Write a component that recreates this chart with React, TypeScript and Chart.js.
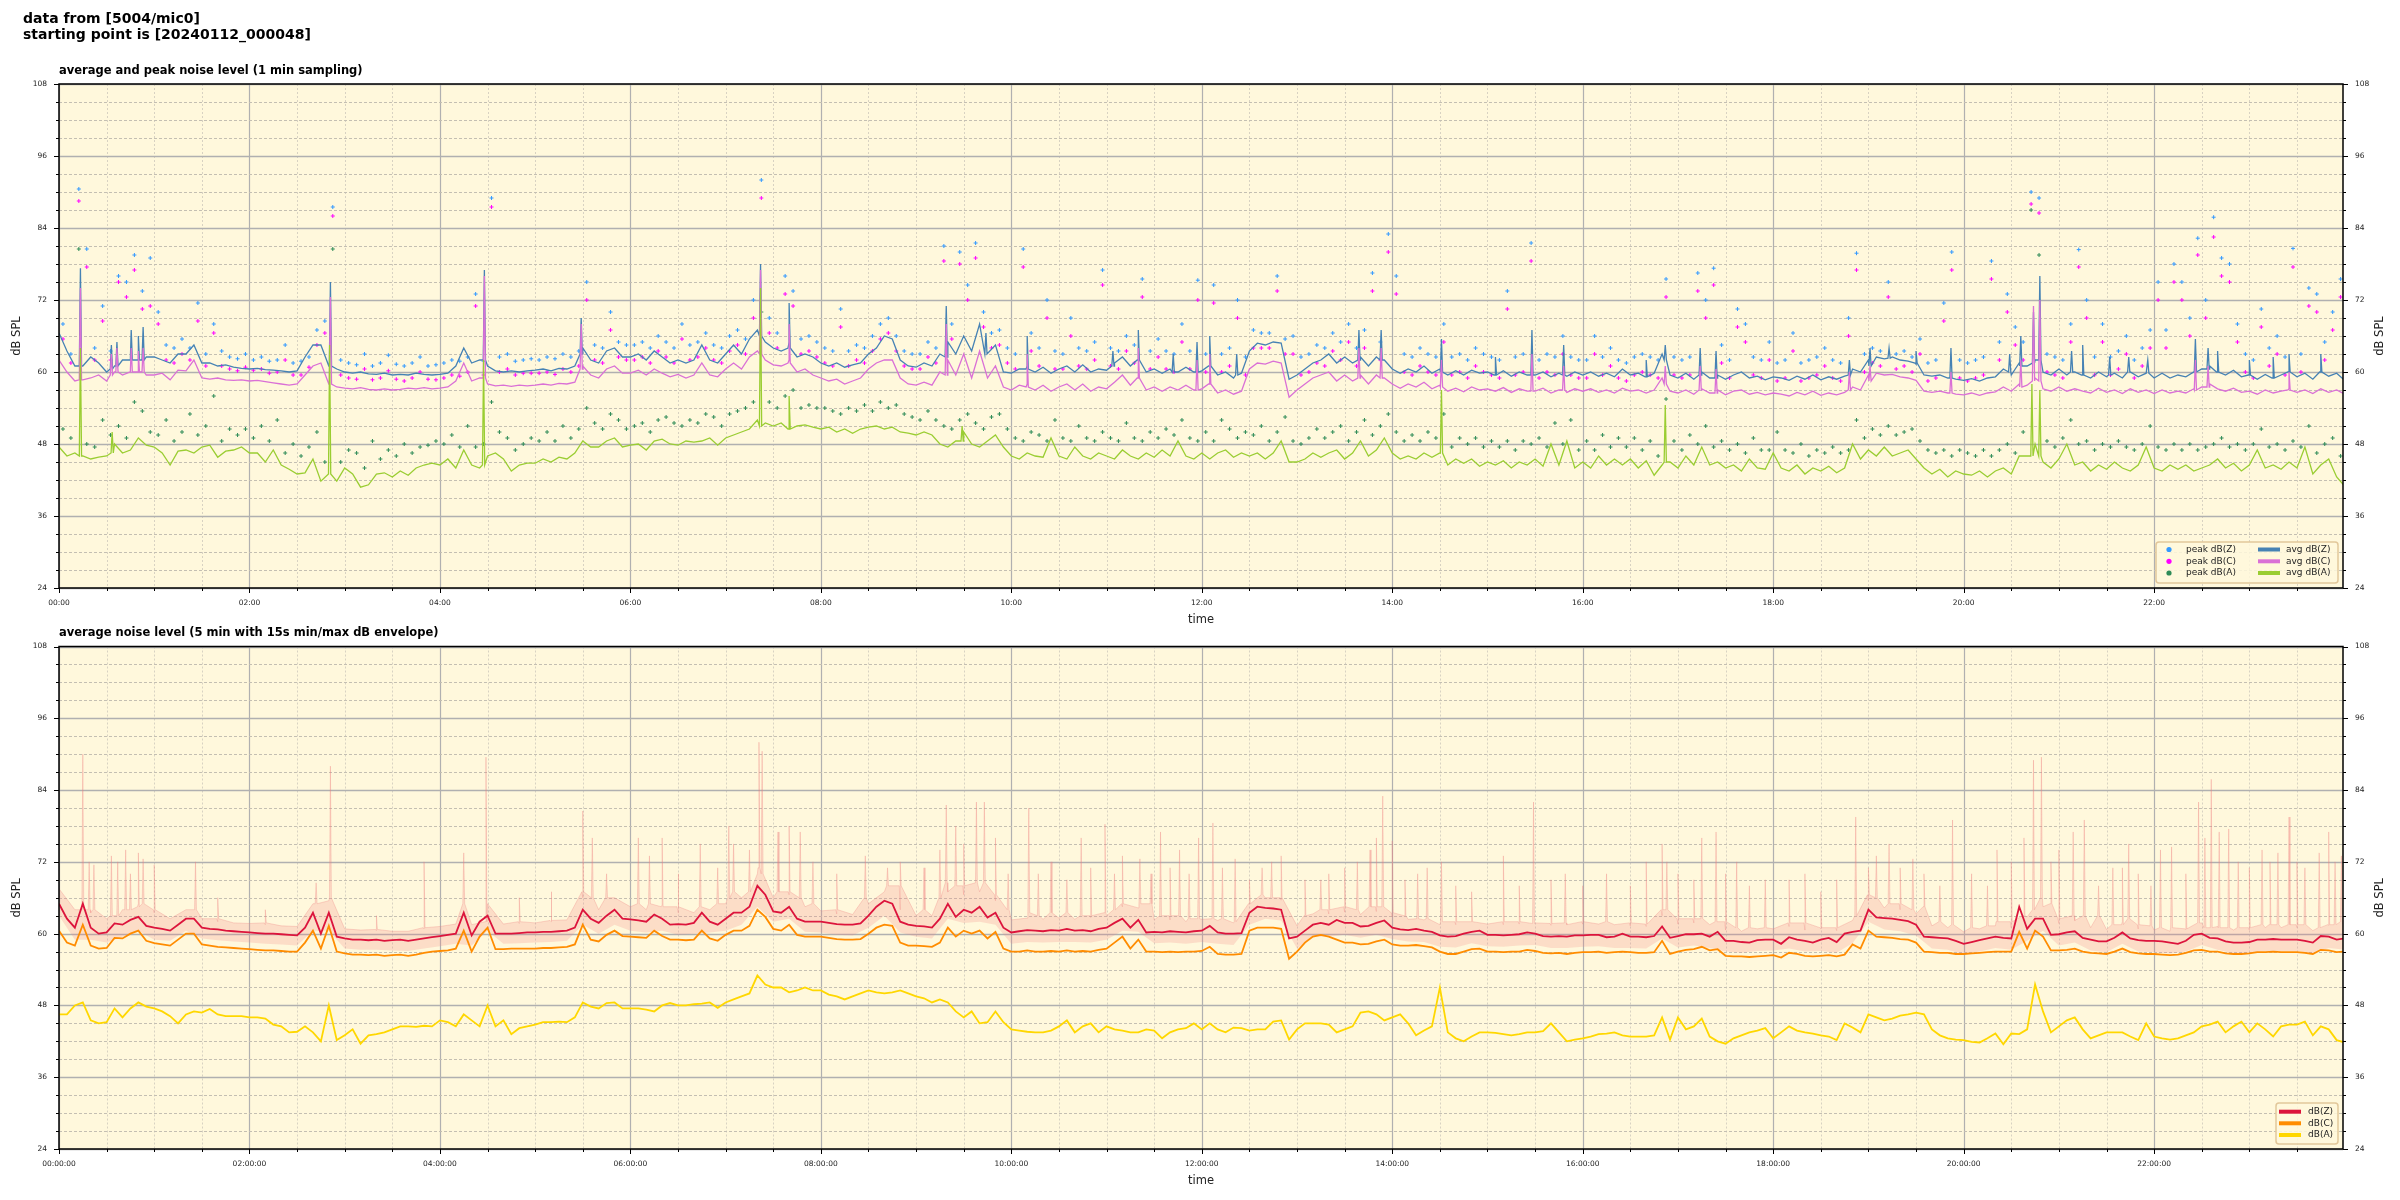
import React, { useEffect, useRef } from "react";
import { Chart, registerables } from "chart.js";
Chart.register(...registerables);
Chart.defaults.font.family = "'DejaVu Sans', sans-serif";

const X_MAX = 1439;
const BG = "#fff8dc";
const HOUR_TICKS = [0, 120, 240, 360, 480, 600, 720, 840, 960, 1080, 1200, 1320];

// ---------- TOP CHART: 1-min averages, sampled here every 5 min (t = 0,5,...,1440) ----------
const TOP_Z = [
  66.5, 63.5, 61, 61, 62.5, 61.5, 60, 61, 62, 62.5, 62, 62.5,
  62.5, 62, 61.5, 63, 63, 64.5, 61.5, 61.5, 61, 61.2, 60.8, 60.6,
  60.5, 60.6, 60.4, 60.3, 60.2, 60, 60.2, 62.5, 64.5, 64.5, 61, 60.5,
  60, 59.8, 60, 59.7, 59.6, 59.8, 59.5, 59.6, 59.5, 59.8, 59.6, 59.5,
  59.6, 59.8, 61, 64, 61.5, 62, 61, 60.2, 60, 60.2, 60, 60.2,
  60.3, 60.5, 60.2, 60.6, 60.5, 61, 64, 62, 61.5, 63.5, 64, 62.5,
  62.5, 63, 62, 63.5, 62.5, 61.5, 62, 61.5, 62, 64.5, 62, 61.5,
  63, 64.5, 63, 65.5, 67, 65, 64, 63.5, 65, 62.5, 63, 62.5,
  61.5, 61, 61.5, 60.8, 61.2, 61.5, 63, 64, 66, 65.5, 62, 61,
  60.8, 61.5, 61, 63, 65, 63, 66, 63.5, 68, 63, 64.5, 60,
  59.8, 60.5, 61, 60, 60.8, 59.8, 60.5, 61, 60, 61.2, 60, 60.5,
  60.3, 61.5, 62.5, 61, 62, 60, 60.5, 59.8, 60.5, 60, 60.8, 60,
  60.2, 61, 59.5, 60, 59, 59.8, 63.5, 64.8, 64.5, 65, 64.8, 58.8,
  59.5, 60.5, 61.5, 62, 63, 61.5, 62.5, 61.5, 62.5, 61, 62.5, 62,
  60.5, 59.8, 60.5, 60, 61, 59.8, 60.5, 59.5, 60.2, 59.5, 60.3, 59.8,
  60, 59.5, 60.2, 59.3, 60, 59.5, 59.5, 60, 59.2, 59.8, 59.3, 60,
  59.5, 60, 59.3, 59.8, 59.2, 60.5, 59.5, 59.8, 59.2, 59.8, 63, 59.5,
  59, 59.8, 58.8, 60, 59, 59.5, 58.8, 59.5, 60, 59, 59.3, 58.7,
  59.2, 59, 58.6, 59.3, 58.8, 59.5, 58.7, 59.2, 58.8, 59.3, 60.5, 60,
  62, 62.5, 62.2, 62.5, 62, 61.8, 61.3, 59.5, 59.3, 59.5, 59, 58.8,
  58.6, 58.9, 58.5, 59, 59.2, 60.5, 59.5, 61.5, 61, 62, 60, 59.5,
  60.5, 59.5, 60, 59.5, 59, 60, 59.2, 59.8, 59, 60, 59.2, 59.8,
  59, 59.8, 59, 59.5, 59.2, 60, 60.5, 61, 60, 59.5, 60.3, 59.2,
  59.5, 58.8, 59.6, 59, 59.5, 60, 59.2, 59.8, 58.8, 60, 59.3, 59.8,
  58.6,
];
// spikes: [minute, level beside spike, spike top]
const TOP_Z_SPIKES = [
  [13.5, 61, 77.3], [33, 60.5, 64.5], [36.5, 61, 65], [45.5, 62, 67], [50, 62, 66], [53, 62, 67.5],
  [171, 61, 75], [268, 62, 77], [329, 63, 69], [442, 66, 78], [460, 64, 71.5], [559, 62.5, 71],
  [584, 63, 66.5], [610, 60.5, 66], [664, 61, 63.5], [680, 62, 67], [702, 60, 63], [717, 60, 65],
  [725, 61, 66], [742, 59.5, 63], [819, 62, 67], [833, 62, 67], [871, 60, 65.5], [905, 59.5, 62.5],
  [928, 59.5, 67], [948, 59.5, 64.5], [1000, 59.2, 62], [1012, 62, 64.5], [1034, 59.5, 64],
  [1044, 59, 63.5], [1128, 59.5, 62], [1141, 61, 64], [1153, 62.3, 64], [1170, 61.5, 63.5],
  [1192, 59, 64], [1229, 60, 63], [1236, 61, 66], [1244, 61.5, 70], [1248, 62, 76], [1268, 60, 63.5],
  [1275, 59.5, 64.5], [1292, 59.5, 62.5], [1304, 60, 62.5], [1316, 59.8, 62], [1346, 60, 65.5],
  [1354, 60.5, 64], [1360, 60, 63.5], [1380, 59.5, 62], [1395, 59, 62.5], [1405, 60, 63], [1425, 60, 63],
];

const TOP_C = [
  62, 60, 58.5, 58.7, 59, 59.5, 58.5, 60, 59.5, 60.5, 60, 59.5,
  59.5, 59.8, 58.7, 60.3, 60.2, 62, 59, 58.8, 59, 58.7, 58.6, 58.7,
  58.5, 58.6, 58.4, 58.2, 58, 57.8, 58, 59.5, 61, 61.5, 58, 57.5,
  57.3, 57.2, 57.4, 57.1, 57, 57.2, 57, 57.1, 57.3, 57.2, 57.4, 57.2,
  57.3, 57.5, 58.5, 61.5, 58.5, 59, 58, 57.7, 57.8, 57.6, 57.8, 57.7,
  57.8, 58, 57.8, 58.1, 58, 58.3, 61, 59.5, 59, 60.5, 61, 59.8,
  59.8, 60.3, 59.5, 60.5, 59.8, 59.2, 59.6, 59, 59.5, 61.5, 59.5, 59.2,
  60.5, 61.5, 60.5, 62.5, 63.5, 62, 61.2, 61, 62, 60, 60.5, 59.5,
  59, 58.5, 58.8, 58, 58.5, 59, 60.5, 61.5, 62, 62, 59, 58,
  57.8, 58.3, 57.8, 60, 62, 59.5, 63, 59, 63.5, 59, 61, 57.5,
  57, 57.8, 58, 57, 57.8, 56.8, 57.5, 58, 57, 58, 56.8, 57.5,
  57.2, 58.3, 59.5, 57.8, 59, 57, 57.5, 56.8, 57.5, 57, 57.8, 57,
  57.2, 58, 56.5, 57, 56.3, 56.8, 60.5, 61.5, 61.3, 61.8, 61.5, 55.8,
  57, 58, 59, 59.5, 60, 58.5, 59.5, 58.5, 59.5, 58, 59.5, 59,
  58, 57.3, 58, 57.5, 58.3, 57.2, 57.8, 56.8, 57.3, 56.7, 57.5, 57,
  57.2, 56.8, 57.4, 56.6, 57.2, 56.8, 56.8, 57.3, 56.5, 57, 56.6, 57.2,
  56.8, 57.2, 56.6, 57, 56.5, 57.3, 56.8, 57, 56.5, 57, 59, 56.8,
  56.5, 57, 56.3, 57.2, 56.5, 57, 56.2, 56.8, 57, 56.3, 56.6, 56.2,
  56.5, 56.3, 56, 56.6, 56.2, 56.8, 56.1, 56.5, 56.2, 56.6, 57.5, 57,
  59.5, 59.8, 59.5, 59.6, 59.2, 59, 58.6, 56.8, 56.6, 56.8, 56.5, 56.3,
  56.2, 56.5, 56.1, 56.5, 56.7, 57.5, 56.8, 58, 57.8, 59, 57.2, 56.8,
  57.5, 56.8, 57.2, 56.8, 56.5, 57.3, 56.6, 57, 56.4, 57.2, 56.6, 57,
  56.4, 57, 56.5, 56.8, 56.5, 57.2, 57.5, 58, 57.2, 56.8, 57.3, 56.6,
  56.8, 56.3, 57, 56.5, 56.8, 57.2, 56.6, 57, 56.4, 57.2, 56.6, 57,
  56.3,
];
const TOP_C_SPIKES = [
  [13.5, 58.7, 74], [33, 59.5, 63], [36.5, 60, 64], [45.5, 60, 64], [50, 60, 63.5], [53, 60, 64],
  [171, 58, 72.5], [268, 59, 76], [329, 60.5, 68], [442, 63, 77], [460, 61.5, 68], [559, 59.5, 68],
  [610, 57.5, 63], [680, 59, 64], [717, 57, 62], [725, 58, 63], [819, 59, 64], [833, 59, 64],
  [871, 57.5, 62], [928, 56.8, 63], [948, 57, 61], [1012, 58, 61], [1034, 57, 61], [1044, 56.5, 60.5],
  [1128, 57, 60], [1141, 58.5, 61], [1192, 56.5, 60], [1236, 57.5, 62], [1244, 58.5, 71], [1248, 58.5, 72],
  [1346, 57, 62], [1354, 57.5, 61], [1405, 57, 60],
];

const TOP_A = [
  47.5, 46, 46.5, 46, 45.5, 45.8, 46, 48, 46.5, 47, 49, 47.8,
  47.5, 46.5, 44.5, 46.8, 47, 46.5, 47.5, 47.8, 45.8, 46.8, 47, 47.5,
  46.5, 46.5, 45, 47, 44.5, 43.8, 43, 43.2, 45.5, 41.8, 43, 41.8,
  44, 43, 40.8, 41.2, 43, 43.2, 42.5, 43.5, 42.8, 44, 44.5, 44.8,
  44.5, 45.5, 44, 47, 44.5, 44, 46, 46.5, 45.5, 43.5, 44.5, 44.8,
  44.8, 45.5, 45, 45.8, 45.5, 46.5, 48.5, 47.5, 47.5, 48.5, 49, 47.5,
  47.8, 48, 47, 48.5, 48.8, 48, 47.8, 48.5, 48.3, 48.5, 49, 47.8,
  49, 49.5, 50, 50.5, 52, 51.5, 51, 51.5, 50.5, 51, 51.2, 50.8,
  50.5, 50.8, 50, 50.5, 49.8, 50.5, 50.8, 51, 50.5, 50.8, 50, 49.8,
  49.5, 50, 49.5, 48, 47.5, 48.5, 50, 48, 47.5, 48.5, 49.5, 47.5,
  46, 45.5, 46.5, 46, 45.8, 49, 46, 45.5, 47.5, 46, 45.5, 46.5,
  46, 45.5, 47, 46, 45.5, 46.5, 45.8, 47, 46, 48.5, 46, 45.5,
  46.5, 45.5, 46.5, 47, 45.8, 46.5, 46, 46.5, 45.5, 46.5, 48.5, 45,
  45, 45.5, 46.5, 45.8, 46.5, 47, 45.5, 46.5, 48.5, 46, 47, 49,
  46.5, 45.5, 46, 45.5, 46.5, 45.8, 46.5, 44.5, 45.5, 44.8, 45.5, 44.3,
  45, 44.5, 45.2, 44, 45, 44.5, 45.5, 44.3, 48, 44.5, 48.5, 44,
  45, 44, 46, 44.5, 45.5, 44.5, 45.5, 44, 45.2, 42.8, 44.5, 45,
  44, 46, 44.5, 47.5, 44.5, 45, 44, 44.5, 43.5, 45.5, 44, 43.8,
  46.5, 44, 43.5, 44.5, 43, 44, 43.5, 44.3, 43.2, 44, 48, 45.5,
  47, 46, 47.5, 46, 46.5, 47, 45.5, 44, 43, 43.8, 42.5, 43.5,
  43, 42.8, 43.5, 42.5, 43.5, 44, 43, 46, 46, 48, 45, 44,
  45.5, 48, 44.5, 45, 43.5, 44.5, 43.8, 45, 44, 43.5, 44.5, 47.5,
  44, 43.5, 44.5, 43.8, 44.5, 43.5, 44, 44.5, 45.5, 44, 44.8, 43.5,
  44.5, 47, 44, 44.5, 43.8, 45, 44, 47.5, 43, 44.5, 45.5, 42.5,
  41,
];
const TOP_A_SPIKES = [
  [13.5, 46, 64], [33.5, 46.5, 50], [170.5, 43, 64.5], [267.5, 44.5, 62], [442, 51, 74], [460, 50.5, 56],
  [569, 48.5, 51], [871, 46.5, 57], [1012, 45, 54.5], [1243, 46, 58], [1248, 46, 57],
];

// peak values, one every 5 min (t = 2.5, 7.5, ...)
const PEAK_Z = [
  68, 63, 90.5, 80.5, 64, 71, 63.5, 76, 75, 79.5, 73.5, 79,
  70, 64.5, 64, 65.5, 64, 71.5, 63, 68, 63.5, 62.5, 62.2, 63,
  62, 62.5, 61.8, 62, 64.5, 61.5, 61.8, 62.5, 67, 68.5, 87.5, 62,
  61.5, 61.2, 63, 61, 61.5, 62.8, 61.3, 61, 61.5, 62.5, 61, 61.2,
  61.5, 62, 61.8, 62.5, 73, 61.8, 89, 62.5, 63, 61.8, 62, 62.2,
  62, 62.5, 62.2, 63, 62.5, 63.5, 75, 64.5, 64, 70, 65, 64.5,
  64.5, 65, 64, 66, 65, 64, 68, 64.5, 65, 66.5, 64.5, 64,
  66, 67, 65.5, 72, 92, 69, 66.5, 76, 73.5, 65.5, 66, 65,
  64, 63.5, 70.5, 63.5, 64.5, 64, 66, 68, 69, 66, 63.5, 63,
  63, 65, 64, 81, 68, 80, 74.5, 81.5, 70, 66.5, 67, 64,
  63, 80.5, 66.5, 64, 72, 63.5, 63, 69, 64, 63.5, 65, 77,
  64, 63.5, 66, 64.5, 75.5, 63.5, 65.5, 63.5, 63, 68, 63.5, 75.3,
  63, 74.5, 63, 64, 72, 62.5, 67, 66.5, 66.5, 76, 65.5, 66,
  62.5, 63, 64.5, 64, 66.5, 65, 68, 64, 67, 76.5, 65, 83,
  76, 63, 62.5, 64, 63, 62.5, 68, 62.5, 63, 62, 64, 63,
  62.5, 62, 73.5, 62.5, 63, 81.5, 62, 63, 62.5, 66, 62.5, 62,
  62, 66, 62.5, 64, 62, 61.5, 62.5, 63, 62.5, 62, 75.5, 62.5,
  62, 62.5, 76.5, 72, 77.3, 64.5, 62, 70.5, 68, 62.5, 62, 65,
  61.5, 62, 66.5, 61.5, 62, 62.5, 64, 62, 61.5, 69, 79.8, 63,
  64, 63.5, 75, 63, 63.5, 62.5, 65.5, 61.5, 62, 71.5, 80, 62,
  61.5, 62, 62.5, 78.5, 65, 73, 67.5, 65, 90, 89, 63, 62.5,
  62, 68, 80.4, 72, 62.5, 68, 62.5, 63.5, 66, 62, 64, 67,
  75, 67, 78, 75, 69, 82.3, 72, 85.8, 79, 78, 68, 63,
  62, 70.5, 64, 66, 62.5, 80.6, 63, 74, 73, 65, 70, 75.5,
];
const PEAK_C = [
  65.5, 61.5, 88.5, 77.5, 62, 68.5, 62, 75, 72.5, 77, 70.5, 71,
  68, 62, 61.5, 63, 62, 68.5, 61, 66.5, 61, 60.5, 60.2, 60.8,
  60.3, 60.5, 59.8, 60, 62, 59.5, 59.5, 60.8, 64.5, 66.5, 86, 59.5,
  59, 58.8, 60.5, 58.7, 59, 60.2, 58.8, 58.5, 59, 60, 58.8, 58.7,
  59, 59.5, 59.3, 60, 71, 59.5, 87.5, 60, 60.5, 59.5, 59.8, 59.8,
  59.8, 60, 59.6, 60.5, 60, 61, 72, 62, 61.5, 67, 62.5, 62,
  62, 62.5, 61.5, 63.5, 62.5, 61.5, 65.5, 62, 62.5, 64, 62, 61.5,
  63.5, 64.5, 63, 69, 89, 66.5, 64, 73, 71, 63, 63.5, 62.5,
  61.5, 61, 67.5, 61, 62, 61.5, 63.5, 65.5, 66.5, 63.5, 61, 60.5,
  60.5, 62.5, 61.5, 78.5, 65.5, 78, 72, 79, 67.5, 64, 64.5, 61.5,
  60.5, 77.5, 63.5, 61, 69, 60.5, 60.5, 66, 61, 60.5, 62, 74.5,
  61, 60.5, 63.5, 61.5, 72.5, 60.5, 62.5, 60.5, 60, 65, 60.5, 72,
  60, 71.5, 60, 61, 69, 59.5, 64, 64, 64, 73.5, 63, 63,
  59.5, 60, 61.5, 61, 63.5, 62, 65, 61, 64, 73.5, 62, 80,
  73, 60, 59.5, 61, 60, 59.5, 65, 59.5, 60, 59, 61, 60,
  59.5, 59, 70.5, 59.5, 60, 78.5, 59, 60, 59.5, 63, 59.5, 59,
  59, 63, 59.5, 61, 59, 58.5, 59.5, 60, 59.5, 59, 72.5, 59.5,
  59, 59.5, 73.5, 69, 74.5, 61.5, 59, 67.5, 65, 59.5, 59, 62,
  58.5, 59, 63.5, 58.5, 59, 59.5, 61, 59, 58.5, 66, 77, 60,
  61.5, 61, 72.5, 60.5, 61, 60, 63, 58.5, 59, 68.5, 77, 59,
  58.5, 59, 59.5, 75.5, 62, 70, 64.5, 62, 88, 86.5, 60, 59.5,
  59, 65, 77.5, 69, 59.5, 65, 59.5, 60.5, 63, 59, 61, 64,
  72, 64, 75, 72, 66, 79.5, 69, 82.5, 76, 75, 65, 60,
  59, 67.5, 61, 63, 59.5, 77.5, 60, 71, 70, 62, 67, 72.5,
];
const PEAK_A = [
  50.5, 49, 80.5, 48, 47.5, 52, 49.5, 51, 49, 55, 53.5, 50,
  49.5, 52, 48.5, 50, 53, 49.5, 51, 56, 48.5, 50.5, 49.5, 50.5,
  49, 51, 48.5, 52, 46.5, 48, 46, 47.5, 50, 45, 80.5, 45,
  47, 46.5, 44, 48.5, 45.5, 47, 46, 48, 46.5, 47.5, 47.8, 48.5,
  48, 49.5, 47.5, 51, 47.5, 48, 55, 50, 49, 47, 48, 49,
  48.5, 50, 48.5, 51, 49, 50.5, 54, 51.5, 50.5, 53, 52, 50.5,
  51, 51.5, 50, 52, 52.5, 51.5, 51, 52, 51.5, 53, 52.5, 51,
  53, 53.5, 54, 55, 70, 55, 54, 56, 57, 54, 54.5, 54,
  54, 53.5, 53, 54, 53.5, 54.5, 53.5, 55, 54, 54.5, 53, 52.5,
  52, 53.5, 52, 51, 50.5, 52, 53, 51.5, 50.5, 52.5, 53, 50.5,
  49, 48.5, 50, 49.5, 48.5, 52, 49, 48.5, 51, 49, 48.5, 50,
  49, 48.5, 51.5, 49, 48.5, 50, 49, 50.5, 49.5, 52, 49, 48.5,
  50, 48.5, 52, 50.5, 49, 50, 49.5, 51, 48.5, 50, 52.5, 48.5,
  48, 49, 50.5, 49, 50, 51, 48.5, 50, 52, 49.5, 51, 53,
  50, 48.5, 49.5, 48.5, 50, 49, 53, 47.5, 49, 48, 49, 47.5,
  48.5, 47.5, 48.5, 47, 48.5, 48, 49, 47.5, 51.5, 48, 52, 47,
  48.5, 47, 49.5, 47.5, 49, 47.5, 49, 47, 48.5, 46, 55.5, 48.5,
  47, 49.5, 48, 51, 47.5, 48.5, 47, 48, 46.5, 49, 47, 47,
  50, 47, 46.5, 48, 46, 47, 46.5, 47.5, 46.5, 47, 52, 49,
  50.5, 49.5, 51, 49.5, 50, 50.5, 48.5, 47, 46.5, 47, 46, 47,
  46.5, 46, 47, 46, 47, 48, 46.5, 50, 87, 79.5, 48.5, 47.5,
  49, 52, 48, 48.5, 47, 48, 47.5, 48.5, 47.5, 47, 48, 51,
  47.5, 47, 48, 47, 48, 47, 47.5, 48, 49, 47.5, 48, 47,
  48, 50.5, 47.5, 48, 47, 48.5, 47.5, 51, 46.5, 48, 49, 46,
];

// ---------- BOTTOM CHART: 5-min averages (t = 0,5,...,1440) ----------
const BOT_Z = [
  65, 62.5, 61, 65, 61, 60, 60.2, 61.7, 61.5, 62.3, 62.8, 61.3,
  61, 60.8, 60.5, 61.5, 62.5, 62.5, 61, 60.8, 60.7, 60.5, 60.4, 60.3,
  60.2, 60.1, 60, 60, 59.9, 59.8, 59.7, 61, 63.5, 60, 63.5, 59.5,
  59.2, 59, 59, 58.9, 59, 58.8, 58.9, 59, 58.8, 59, 59.2, 59.4,
  59.6, 59.8, 60, 63.5, 59.7, 62, 63, 60, 60, 60, 60.1, 60.2,
  60.2, 60.3, 60.3, 60.4, 60.5, 61, 64, 62.5, 61.8, 63, 64, 62.5,
  62.4, 62.2, 62, 63.2, 62.5, 61.5, 61.6, 61.5, 61.8, 63.5, 62, 61.5,
  62.5, 63.5, 63.5, 64.5, 68, 66.5, 63.7, 63.5, 64.5, 62.5, 62, 62,
  62, 61.8, 61.6, 61.5, 61.5, 61.7, 63, 64.5, 65.5, 65, 62, 61.5,
  61.3, 61.2, 61, 62.5, 65, 62.8, 64, 63.5, 64.5, 62.7, 63.5, 61,
  60.2, 60.4, 60.6, 60.5, 60.4, 60.6, 60.5, 60.8, 60.5, 60.6, 60.4, 60.8,
  61, 61.8, 62.5, 61, 62.3, 60.2, 60.3, 60.2, 60.4, 60.3, 60.2, 60.4,
  60.5, 61.3, 60.2, 60, 60, 60.1, 63.5, 64.5, 64.3, 64.2, 64, 59.2,
  59.5, 60.5, 61.5, 61.8, 61.5, 62.3, 61.8, 61.8, 61.2, 61.3, 61.8, 62.2,
  61, 60.7, 60.6, 60.8, 60.5, 60.3, 59.7, 59.5, 59.6, 60, 60.3, 60.5,
  59.8, 59.8, 59.7, 59.8, 59.9, 60.2, 60, 59.6, 59.5, 59.6, 59.5, 59.7,
  59.7, 59.8, 59.8, 59.4, 59.5, 60, 59.5, 59.5, 59.4, 59.6, 61.2, 59.3,
  59.6, 59.9, 59.9, 60, 59.5, 60.3, 58.8, 58.8, 58.6, 58.5, 58.9, 59,
  59, 58.3, 59.4, 59, 58.8, 58.5, 59, 59.3, 58.6, 60, 60.3, 60.5,
  64, 62.7, 62.6, 62.5, 62.3, 62.1, 61.5, 59.5, 59.4, 59.3, 59.2, 58.8,
  58.3, 58.6, 58.9, 59.2, 59.5, 59.3, 59.2, 64.5, 60.8, 62.5, 62.5, 59.8,
  59.9, 60.2, 60.4, 59.3, 59, 58.7, 58.7, 59.3, 60.2, 59.2, 58.9, 58.8,
  58.8, 58.7, 58.5, 58.3, 58.8, 59.8, 60, 59.3, 59.2, 58.7, 58.5, 58.5,
  58.6, 59, 59, 59.1, 59, 59, 59, 58.8, 58.5, 59.6, 59.5, 59,
  59.2,
];
const BOT_C = [
  60.5, 58.5, 58, 61.5, 58, 57.5, 57.6, 59.3, 59.2, 60, 60.5, 58.8,
  58.4, 58.2, 58, 59, 60, 60, 58.2, 58, 57.8, 57.7, 57.6, 57.5,
  57.4, 57.3, 57.2, 57.2, 57.1, 57, 57, 58.5, 60.5, 57.5, 61.3, 57,
  56.7, 56.5, 56.5, 56.4, 56.5, 56.3, 56.4, 56.5, 56.3, 56.5, 56.8, 57,
  57.1, 57.2, 57.5, 60.5, 57, 59.5, 61, 57.4, 57.4, 57.5, 57.5, 57.5,
  57.5, 57.6, 57.6, 57.7, 57.8, 58.2, 61.5, 59, 58.7, 59.8, 60.5, 59.6,
  59.5, 59.4, 59.3, 60.5, 59.6, 59, 59, 58.9, 59, 60.5, 59.2, 58.8,
  59.8, 60.5, 60.5, 61.3, 64, 62.8, 60.8, 60.5, 61.5, 59.8, 59.5, 59.5,
  59.5, 59.3, 59.1, 59, 59, 59.1, 60, 61, 61.5, 61.3, 58.5, 58,
  58, 57.9, 57.8, 58.5, 61, 59.5, 60.5, 60, 60.5, 59.2, 60.3, 57.5,
  57, 57, 57.2, 57, 57, 57.1, 57, 57.2, 57, 57.1, 57, 57.3,
  57.5, 58.5, 59.5, 57.5, 59, 57, 57, 56.9, 57, 56.9, 57, 57,
  57.1, 57.8, 56.6, 56.5, 56.5, 56.6, 60.5, 61, 61, 61, 60.8, 55.8,
  57, 58.5, 59.5, 59.8, 59.5, 59, 58.5, 58.5, 58.2, 58.3, 58.7, 59,
  58.2, 58, 58, 58.1, 57.9, 57.7, 57, 56.6, 56.6, 57, 57.4, 57.5,
  57, 57, 56.9, 57, 57, 57.3, 57.1, 56.8, 56.7, 56.8, 56.6, 56.8,
  56.9, 56.9, 57, 56.8, 56.9, 57, 56.9, 56.8, 56.8, 56.9, 58.8, 56.6,
  57, 57.3, 57.4, 57.8, 57.2, 57.4, 56.3, 56.2, 56.2, 56.1, 56.2, 56.3,
  56.4, 56, 56.8, 56.6, 56.3, 56.2, 56.3, 56.4, 56.2, 56.5, 58.2, 57.5,
  60.5, 59.5, 59.4, 59.3, 59.1, 59, 58.5, 57, 56.9, 56.8, 56.8, 56.6,
  56.6, 56.7, 56.8, 56.9, 57, 57, 57, 60.3, 57.5, 60.5, 59.5, 57.2,
  57.2, 57.3, 57.5, 57, 56.8, 56.7, 56.6, 57, 57.5, 56.9, 56.7, 56.6,
  56.6, 56.5, 56.4, 56.5, 56.8, 57.2, 57.3, 57, 57, 56.7, 56.6, 56.6,
  56.7, 56.9, 56.9, 57, 56.9, 56.9, 56.9, 56.8, 56.6, 57.3, 57.2, 56.9,
  57,
];
const BOT_A = [
  46.5, 46.5, 48, 48.5, 45.5, 45, 45.2, 47.5, 46, 47.5, 48.5, 47.8,
  47.5, 47, 46.2, 45, 46.5, 47, 46.8, 47.4, 46.5, 46.2, 46.2, 46.2,
  46, 46, 45.8, 44.8, 44.5, 43.5, 43.6, 44.5, 43.5, 42, 48, 42.2,
  43, 44, 41.6, 43, 43.2, 43.5, 44, 44.5, 44.5, 44.4, 44.6, 44.5,
  45.5, 45.2, 44.5, 46.5, 45.5, 44.5, 48, 44.5, 45.5, 43.2, 44.2, 44.5,
  44.8, 45.2, 45.2, 45.3, 45.2, 46, 48.5, 47.8, 47.5, 48.4, 48.5, 47.5,
  47.5, 47.5, 47.3, 47, 48, 48.4, 48, 48, 48.2, 48.3, 48.5, 47.6,
  48.5, 49, 49.5, 50, 53, 51.5, 51, 51, 50.2, 50.5, 51, 50.5,
  50.5, 49.8, 49.5, 49, 49.5, 50, 50.5, 50.2, 50, 50.2, 50.5, 50,
  49.5, 49.2, 48.5, 49, 48.5, 47, 46, 47, 45, 45.2, 47, 45.2,
  44, 43.8, 43.6, 43.5, 43.5, 43.8, 44.5, 45.5, 43.5, 44.5, 45, 43.5,
  44.5, 44, 43.8, 43.5, 43.5, 44, 43.8, 42.5, 43.5, 44, 44.2, 45,
  44, 45, 44, 43.5, 44.3, 44.2, 43.8, 44, 44, 45.3, 45.5, 42.3,
  44, 45, 45, 45, 44.8, 43.5, 44, 44.5, 46.8, 47, 46.5, 45.5,
  46, 46.5, 45, 43, 43.8, 44.5, 51, 43.5, 42.5, 42, 42.8, 43.5,
  43.5, 43.4, 43.2, 43, 43.2, 43.5, 43.5, 43.7, 45, 43.5, 42, 42.3,
  42.5, 42.8, 43.2, 43.3, 43.5, 43, 42.8, 42.8, 42.8, 43, 46, 42.3,
  46, 44, 44.5, 45.8, 42.8, 42, 41.6, 42.5, 43, 43.5, 43.8, 44.2,
  42.5, 43.5, 44.5, 43.8, 43.5, 43.3, 43, 42.8, 42.2, 45, 44.3, 43.5,
  46.5, 46, 45.5, 45.8, 46.3, 46.5, 46.8, 46.5, 44, 43, 42.5, 42.3,
  42.2, 41.9, 41.8, 42.5, 43.3, 41.5, 43.3, 43.2, 44, 51.5, 47, 43.5,
  44.5, 45.5, 46, 44, 42.5, 43, 43.5, 43.5, 43.5, 42.8, 42.2, 45,
  42.8, 42.5, 42.3, 42.5, 43, 43.5, 44.5, 44.8, 45.3, 43.5, 44.5, 45.3,
  43.5, 45, 44, 42.8, 44.5, 44.8, 44.8, 45.3, 43, 44.5, 44, 42.2,
  41.8,
];

// 15 s min/max envelope, every 10 min (t = 0,10,...,1440)
const ENV_LO = [
  63, 59, 59, 58.5, 59.5, 60.5,
  59, 58.8, 60.5, 59.2, 58.9, 58.7,
  58.5, 58.3, 58.2, 58, 60.5, 60.5,
  57.5, 57.3, 57.3, 57.2, 57.1, 57.5,
  57.9, 58.3, 58, 60.5, 58.3, 58.4,
  58.5, 58.6, 58.8, 61.5, 60, 61.5,
  60.5, 60.2, 60.5, 59.8, 60, 60.2,
  60.5, 61.5, 64.5, 62, 62.5, 60.3,
  60.2, 59.8, 59.7, 61, 63, 60.2,
  59.5, 59.2, 62.5, 61.8, 62, 61.5,
  58.3, 58.6, 58.5, 58.6, 58.6, 58.5,
  59, 60.5, 60.3, 58.4, 58.5, 58.3,
  58.6, 58.3, 58.1, 61.5, 62.5, 62.2,
  57.5, 59.5, 59.5, 59.8, 59.3, 59.8,
  59.1, 58.7, 58.6, 57.8, 57.7, 58.4,
  57.9, 57.8, 58, 58.1, 57.6, 57.6,
  57.8, 57.9, 57.6, 57.6, 57.5, 59.2,
  57.7, 58, 57.6, 57, 56.8, 57.1,
  57.2, 57.5, 57, 57.1, 56.8, 58.4,
  62, 60.7, 60.4, 59.7, 57.5, 57.3,
  56.5, 57, 57.6, 57.3, 58.8, 60.5,
  58, 58.5, 57.2, 56.9, 58.3, 57,
  56.9, 56.7, 57, 58.1, 57.3, 56.7,
  56.8, 57.1, 57.1, 57.1, 56.7, 57.6,
  57.3,
];
const ENV_HI = [
  67.5, 64, 63.5, 62.5, 64, 65,
  63.5, 62.5, 64, 62.5, 62, 61.8,
  61.7, 61.5, 61.3, 61.2, 65, 65.5,
  60.8, 60.6, 60.5, 60.4, 60.4, 60.8,
  61.2, 61.6, 61.5, 65, 61.6, 61.7,
  61.8, 62, 62.3, 66, 64, 66,
  64.5, 64, 64.8, 63.5, 63.5, 64,
  65, 66, 70, 66, 66.5, 64.5,
  63.8, 63.3, 63.2, 65, 67, 64,
  63, 63, 67, 66.5, 67, 65.5,
  62.3, 62.6, 62.4, 62.6, 62.4, 62.7,
  63, 64.5, 64.3, 62.3, 62.3, 62,
  62.4, 62.2, 61.8, 65, 66, 65.6,
  61.3, 63.3, 63.3, 63.6, 63.2, 63.7,
  62.8, 62.4, 62.3, 61.5, 61.5, 62,
  61.6, 61.5, 61.6, 61.8, 61.4, 61.5,
  61.6, 61.6, 61.5, 61.3, 61.2, 63,
  61.6, 61.8, 61.5, 60.6, 60.4, 60.8,
  60.8, 61.2, 60.6, 60.8, 60.5, 62.2,
  65.5, 64.3, 64, 63.3, 61.3, 61,
  60.3, 60.8, 61.3, 61, 62.8, 64.5,
  61.7, 62.2, 61, 60.7, 62, 60.8,
  60.6, 60.4, 60.7, 61.8, 61.2, 60.6,
  60.6, 61, 61, 61, 60.5, 61.4,
  61,
];
// envelope max spikes: [minute, level beside spike, spike top]
const ENV_SPIKES = [
  [15, 64, 90], [19, 64, 72], [22, 64, 71.5], [33, 63, 73], [37, 63, 72], [42, 64, 74], [45, 64, 70],
  [50, 64.5, 73.5], [53, 65, 72.5], [60, 64, 71.5], [86, 64, 72], [100, 62.5, 66], [130, 61.8, 64],
  [162, 65, 68.5], [171, 66, 88], [200, 60.7, 63], [230, 61, 72], [255, 65, 73.5], [269, 62, 89.5],
  [290, 62, 66], [310, 62.2, 67], [330, 67, 80.5], [336, 66, 76], [345, 66, 70], [365, 65, 76],
  [372, 65, 73], [380, 64.5, 76], [390, 64.5, 70], [404, 64.5, 75], [415, 65, 71], [422, 66, 78],
  [425, 67, 75], [435, 67, 74], [441, 71, 92], [443, 70, 90.5], [453, 67, 77], [460, 67, 78],
  [467, 66, 77], [475, 65, 72], [490, 64, 70], [508, 66, 73], [522, 68, 71], [530, 68, 72],
  [545, 64, 71], [555, 66, 74], [559, 68.5, 81.5], [565, 68, 78], [570, 68, 75], [578, 68.5, 82],
  [583, 68.5, 82], [590, 66.5, 76], [598, 64, 70], [611, 63.5, 81], [617, 63, 70], [625, 63.5, 72],
  [635, 63.5, 69], [644, 63, 76], [650, 63, 71], [659, 63.5, 78.3], [665, 64, 70], [670, 65, 73],
  [681, 65, 72.5], [688, 65, 70], [694, 63, 77], [700, 63, 71], [706, 63, 74], [712, 62.5, 70],
  [718, 62.5, 76], [727, 62.5, 78.5], [733, 62.5, 71], [741, 62, 72.5], [750, 65, 69], [758, 66.5, 71],
  [764, 66, 72], [770, 66, 73], [785, 63, 69], [795, 64, 69], [800, 64, 70], [810, 64.5, 71],
  [818, 64, 72], [826, 64.5, 74], [830, 64.5, 76], [834, 64.5, 83], [840, 63.5, 75.5], [848, 63, 69],
  [856, 62.5, 70], [862, 62.5, 71], [871, 62, 72], [880, 62, 68], [890, 62, 67], [910, 62, 73],
  [920, 62, 68], [929, 61.7, 82], [940, 61.7, 69], [949, 61.8, 70], [960, 62, 68], [975, 62, 70],
  [990, 61.8, 68], [1000, 61.6, 72], [1010, 64, 75], [1013, 64, 72], [1020, 62.5, 70], [1030, 62.5, 69],
  [1035, 62.5, 76], [1044, 62, 77], [1050, 62, 70], [1057, 61, 72], [1065, 61, 68], [1075, 61, 69],
  [1090, 61.8, 69], [1100, 61.8, 70], [1110, 61, 67], [1120, 61, 69], [1132, 63, 79.5], [1140, 66.5, 71],
  [1145, 66, 73], [1153, 65, 75], [1160, 65, 71], [1168, 64, 72.5], [1175, 64.5, 70], [1185, 62, 68],
  [1193, 61.5, 79], [1205, 61, 70], [1215, 61.3, 68], [1221, 62, 74], [1230, 62, 72], [1238, 63, 76],
  [1244, 64, 89], [1249, 66, 89.5], [1255, 65, 72], [1260, 62.5, 74], [1269, 63, 77], [1276, 63, 79],
  [1285, 63, 68], [1294, 61.5, 71], [1300, 61.5, 71], [1304, 62.5, 75], [1310, 61.5, 70],
  [1318, 61.3, 68], [1324, 61, 74], [1331, 61, 74.5], [1340, 60.8, 70], [1348, 61.8, 82],
  [1352, 61, 76], [1356, 61, 85.8], [1361, 61, 77], [1367, 61, 77.5], [1373, 61, 72], [1380, 61, 71],
  [1388, 61.5, 74], [1393, 61.5, 72], [1398, 61.5, 73.5], [1405, 61.5, 79.5], [1410, 61.5, 72],
  [1415, 61.5, 71], [1424, 61, 73.5], [1430, 61.5, 77], [1434, 61.5, 72], [1438, 62, 73],
];

// ---------- helpers ----------
type P = { x: number; y: number };
function withSpikes(vals: number[], step: number, spikes: number[][], half: number): P[] {
  const pts: P[] = vals.map((v, i) => ({ x: i * step, y: v }));
  for (const [t, b, p] of spikes) {
    pts.push({ x: t - half, y: b }, { x: t, y: p }, { x: t + half, y: b });
  }
  pts.sort((a, b) => a.x - b.x);
  return pts;
}
function peaks(vals: number[]): P[] {
  return vals.map((v, i) => ({ x: 2.5 + i * 5, y: v }));
}
function fmt(v: number, sec: boolean) {
  const h = Math.floor(v / 60);
  const m = Math.round(v % 60);
  const s = String(h).padStart(2, "0") + ":" + String(m).padStart(2, "0");
  return sec ? s + ":00" : s;
}

const gridPlugin = {
  id: "gridPlugin",
  beforeDatasetsDraw(chart: any) {
    const { ctx, chartArea: a, scales } = chart;
    const xs = scales.x, ys = scales.y;
    ctx.save();
    ctx.fillStyle = BG;
    ctx.fillRect(a.left, a.top, a.right - a.left, a.bottom - a.top);
    for (let t = 0; t <= X_MAX; t += 30) {
      const px = Math.round(xs.getPixelForValue(t)) + 0.5;
      ctx.beginPath();
      if (t % 120 === 0) {
        ctx.setLineDash([]);
        ctx.strokeStyle = "#b0b0b0";
        ctx.lineWidth = 1.2;
      } else {
        ctx.setLineDash([2, 2]);
        ctx.strokeStyle = "#d8d2c2";
        ctx.lineWidth = 1;
      }
      ctx.moveTo(px, a.top);
      ctx.lineTo(px, a.bottom);
      ctx.stroke();
    }
    for (let v = 24; v <= 108; v += 3) {
      const py = Math.round(ys.getPixelForValue(v)) + 0.5;
      ctx.beginPath();
      if (v % 12 === 0) {
        ctx.setLineDash([]);
        ctx.strokeStyle = "#b0b0b0";
        ctx.lineWidth = 1.5;
      } else {
        ctx.setLineDash([3, 2]);
        ctx.strokeStyle = "#c4bfb2";
        ctx.lineWidth = 1;
      }
      ctx.moveTo(a.left, py);
      ctx.lineTo(a.right, py);
      ctx.stroke();
    }
    ctx.restore();
  },
  afterDatasetsDraw(chart: any) {
    const { ctx, chartArea: a, scales } = chart;
    const xs = scales.x, ys = scales.y;
    ctx.save();
    ctx.setLineDash([]);
    ctx.strokeStyle = "#000";
    ctx.lineWidth = 1;
    for (let v = 24; v <= 108; v += 3) {
      const py = Math.round(ys.getPixelForValue(v)) + 0.5;
      const len = v % 12 === 0 ? 5 : 3;
      ctx.beginPath();
      ctx.moveTo(a.left, py);
      ctx.lineTo(a.left - len, py);
      ctx.moveTo(a.right, py);
      ctx.lineTo(a.right + len, py);
      ctx.stroke();
    }
    for (let t = 0; t <= X_MAX; t += 30) {
      const px = Math.round(xs.getPixelForValue(t)) + 0.5;
      const len = t % 120 === 0 ? 5 : 3;
      ctx.beginPath();
      ctx.moveTo(px, a.bottom);
      ctx.lineTo(px, a.bottom + len);
      ctx.stroke();
    }
    ctx.lineWidth = 1.5;
    ctx.strokeRect(a.left, a.top, a.right - a.left, a.bottom - a.top);
    // right-hand axis title, reading bottom-to-top like the left one
    ctx.translate(2380, (a.top + a.bottom) / 2);
    ctx.rotate(-Math.PI / 2);
    ctx.fillStyle = "#222";
    ctx.font = "11.5px 'DejaVu Sans', sans-serif";
    ctx.textAlign = "center";
    ctx.textBaseline = "middle";
    ctx.fillText("dB SPL", 0, 0);
    ctx.restore();
  },
};

const boxLegend = {
  id: "boxLegend",
  afterDraw(chart: any, _args: any, opts: any) {
    if (!opts || !opts.items) return;
    const { ctx, chartArea: a } = chart;
    const { w, h, items } = opts;
    const bx = a.right - 5 - w;
    const by = a.bottom - 5 - h;
    ctx.save();
    ctx.beginPath();
    const r = 3;
    ctx.moveTo(bx + r, by);
    ctx.lineTo(bx + w - r, by);
    ctx.quadraticCurveTo(bx + w, by, bx + w, by + r);
    ctx.lineTo(bx + w, by + h - r);
    ctx.quadraticCurveTo(bx + w, by + h, bx + w - r, by + h);
    ctx.lineTo(bx + r, by + h);
    ctx.quadraticCurveTo(bx, by + h, bx, by + h - r);
    ctx.lineTo(bx, by + r);
    ctx.quadraticCurveTo(bx, by, bx + r, by);
    ctx.closePath();
    ctx.fillStyle = "rgba(255,248,220,0.85)";
    ctx.fill();
    ctx.strokeStyle = "#e2c79a";
    ctx.lineWidth = 1.5;
    ctx.stroke();
    ctx.font = "9px 'DejaVu Sans', sans-serif";
    ctx.textBaseline = "middle";
    for (const it of items) {
      const x = bx + it.dx;
      const y = by + it.dy;
      if (it.kind === "dot") {
        ctx.beginPath();
        ctx.arc(x, y, 2.6, 0, Math.PI * 2);
        ctx.fillStyle = it.color;
        ctx.fill();
      } else {
        ctx.beginPath();
        ctx.moveTo(x, y);
        ctx.lineTo(x + 22, y);
        ctx.strokeStyle = it.color;
        ctx.lineWidth = 4;
        ctx.stroke();
      }
      ctx.fillStyle = "#222";
      ctx.fillText(it.label, x + it.tdx, y);
    }
    ctx.restore();
  },
};

function scalesFor(withSec: boolean, xHeight: number, xTitlePad: number) {
  const yCommon = (pos: "left" | "right") => ({
    type: "linear" as const,
    position: pos,
    min: 24,
    max: 108,
    afterFit: (s: any) => {
      s.width = pos === "left" ? 59 : 57;
    },
    ticks: { stepSize: 12, padding: 12, color: "#222", font: { size: 7.5 } },
    grid: { display: false, drawTicks: false, tickLength: 0 },
    border: { display: false },
    title: {
      display: pos === "left",
      text: "dB SPL",
      color: "#222",
      font: { size: 11.5 },
      padding: { top: 10.4, bottom: 0 },
    },
  });
  return {
    x: {
      type: "linear" as const,
      min: 0,
      max: X_MAX,
      afterBuildTicks: (s: any) => {
        s.ticks = HOUR_TICKS.map((v) => ({ value: v }));
      },
      afterFit: (s: any) => {
        s.height = xHeight;
      },
      ticks: {
        autoSkip: false,
        maxRotation: 0,
        padding: 10.5,
        color: "#222",
        font: { size: 7.5 },
        callback: (v: any) => fmt(Number(v), withSec),
      },
      grid: { display: false, drawTicks: false, tickLength: 0 },
      border: { display: false },
      title: { display: true, text: "time", color: "#222", font: { size: 11.5 }, padding: { top: 0, bottom: xTitlePad } },
    },
    y: yCommon("left"),
    y2: yCommon("right"),
  };
}

function topConfig(): any {
  const line = (label: string, data: P[], color: string, order: number) => ({
    type: "line", label, data, borderColor: color, backgroundColor: color, borderWidth: 1.3,
    pointRadius: 0, fill: false, tension: 0, order, yAxisID: "y",
  });
  const pk = (label: string, data: P[], color: string, order: number) => ({
    type: "line", label, data, showLine: false, borderColor: color, backgroundColor: color,
    pointStyle: "cross", pointRadius: 2, pointBorderWidth: 1, pointBorderColor: color, order, yAxisID: "y",
  });
  return {
    type: "line",
    data: {
      datasets: [
        line("avg dB(A)", withSpikes(TOP_A, 5, TOP_A_SPIKES, 0.7), "#9acd32", 1),
        line("avg dB(C)", withSpikes(TOP_C, 5, TOP_C_SPIKES, 0.7), "#da70d6", 2),
        line("avg dB(Z)", withSpikes(TOP_Z, 5, TOP_Z_SPIKES, 0.7), "#4682b4", 3),
        pk("peak dB(A)", peaks(PEAK_A), "#2e8b57", 4),
        pk("peak dB(C)", peaks(PEAK_C), "#ff00ff", 5),
        pk("peak dB(Z)", peaks(PEAK_Z), "#3399ff", 6),
      ],
    },
    options: {
      responsive: false,
      animation: false,
      events: [],
      devicePixelRatio: 1,
      layout: { padding: { top: 84, left: 0, right: 0, bottom: 0 } },
      scales: scalesFor(false, 42, 3.4),
      plugins: {
        legend: { display: false },
        tooltip: { enabled: false },
        boxLegend: {
          w: 182,
          h: 41,
          items: [
            { kind: "dot", label: "peak dB(Z)", color: "#3399ff", dx: 13, dy: 7.5, tdx: 17 },
            { kind: "dot", label: "peak dB(C)", color: "#ff00ff", dx: 13, dy: 19.3, tdx: 17 },
            { kind: "dot", label: "peak dB(A)", color: "#2e8b57", dx: 13, dy: 31, tdx: 17 },
            { kind: "line", label: "avg dB(Z)", color: "#4682b4", dx: 102, dy: 7.5, tdx: 28 },
            { kind: "line", label: "avg dB(C)", color: "#da70d6", dx: 102, dy: 19.3, tdx: 28 },
            { kind: "line", label: "avg dB(A)", color: "#9acd32", dx: 102, dy: 31, tdx: 28 },
          ],
        },
      },
    },
    plugins: [gridPlugin, boxLegend],
  };
}

function bottomConfig(): any {
  const line = (label: string, vals: number[], color: string, order: number) => ({
    type: "line", label, data: vals.map((v, i) => ({ x: i * 5, y: v })), borderColor: color,
    backgroundColor: color, borderWidth: 1.8, pointRadius: 0, fill: false, tension: 0, order, yAxisID: "y",
  });
  const envFill = "rgba(240,128,128,0.22)";
  const envLine = "rgba(240,128,128,0.3)";
  return {
    type: "line",
    data: {
      datasets: [
        line("dB(A)", BOT_A, "#ffd700", 1),
        line("dB(C)", BOT_C, "#ff8c00", 2),
        line("dB(Z)", BOT_Z, "#dc143c", 3),
        {
          type: "line", label: "max", data: withSpikes(ENV_HI, 10, ENV_SPIKES, 0.6),
          borderColor: envLine, borderWidth: 1, backgroundColor: envFill, pointRadius: 0,
          fill: "+1", tension: 0, order: 10, yAxisID: "y",
        },
        {
          type: "line", label: "min", data: ENV_LO.map((v, i) => ({ x: i * 10, y: v })),
          borderColor: "rgba(0,0,0,0)", borderWidth: 0, pointRadius: 0, fill: false, order: 11, yAxisID: "y",
        },
      ],
    },
    options: {
      responsive: false,
      animation: false,
      events: [],
      devicePixelRatio: 1,
      layout: { padding: { top: 15, left: 0, right: 0, bottom: 0 } },
      scales: scalesFor(true, 51, 12.4),
      plugins: {
        legend: { display: false },
        tooltip: { enabled: false },
        boxLegend: {
          w: 62,
          h: 41,
          items: [
            { kind: "line", label: "dB(Z)", color: "#dc143c", dx: 3, dy: 8.7, tdx: 29 },
            { kind: "line", label: "dB(C)", color: "#ff8c00", dx: 3, dy: 20.3, tdx: 29 },
            { kind: "line", label: "dB(A)", color: "#ffd700", dx: 3, dy: 32, tdx: 29 },
          ],
        },
      },
    },
    plugins: [gridPlugin, boxLegend],
  };
}

export default function App() {
  const ref1 = useRef<HTMLCanvasElement>(null);
  const ref2 = useRef<HTMLCanvasElement>(null);
  useEffect(() => {
    const c1 = new Chart(ref1.current as HTMLCanvasElement, topConfig());
    const c2 = new Chart(ref2.current as HTMLCanvasElement, bottomConfig());
    return () => {
      c1.destroy();
      c2.destroy();
    };
  }, []);
  const font = "'DejaVu Sans', sans-serif";
  return (
    <div style={{ position: "absolute", left: 0, top: 0, width: 2400, height: 1200, background: "#fff", fontFamily: font, color: "#000" }}>
      <canvas ref={ref1} width={2400} height={630} style={{ position: "absolute", left: 0, top: 0 }} />
      <canvas ref={ref2} width={2400} height={570} style={{ position: "absolute", left: 0, top: 630 }} />
      <div style={{ position: "absolute", left: 23, top: 10, fontSize: 14, fontWeight: "bold", lineHeight: "16px", whiteSpace: "pre" }}>
        {"data from [5004/mic0]\nstarting point is [20240112_000048]"}
      </div>
      <div style={{ position: "absolute", left: 59, top: 63, fontSize: 11.5, fontWeight: "bold", lineHeight: "14px", whiteSpace: "nowrap" }}>
        average and peak noise level (1 min sampling)
      </div>
      <div style={{ position: "absolute", left: 59, top: 625, fontSize: 11.5, fontWeight: "bold", lineHeight: "14px", whiteSpace: "nowrap" }}>
        average noise level (5 min with 15s min/max dB envelope)
      </div>
    </div>
  );
}
